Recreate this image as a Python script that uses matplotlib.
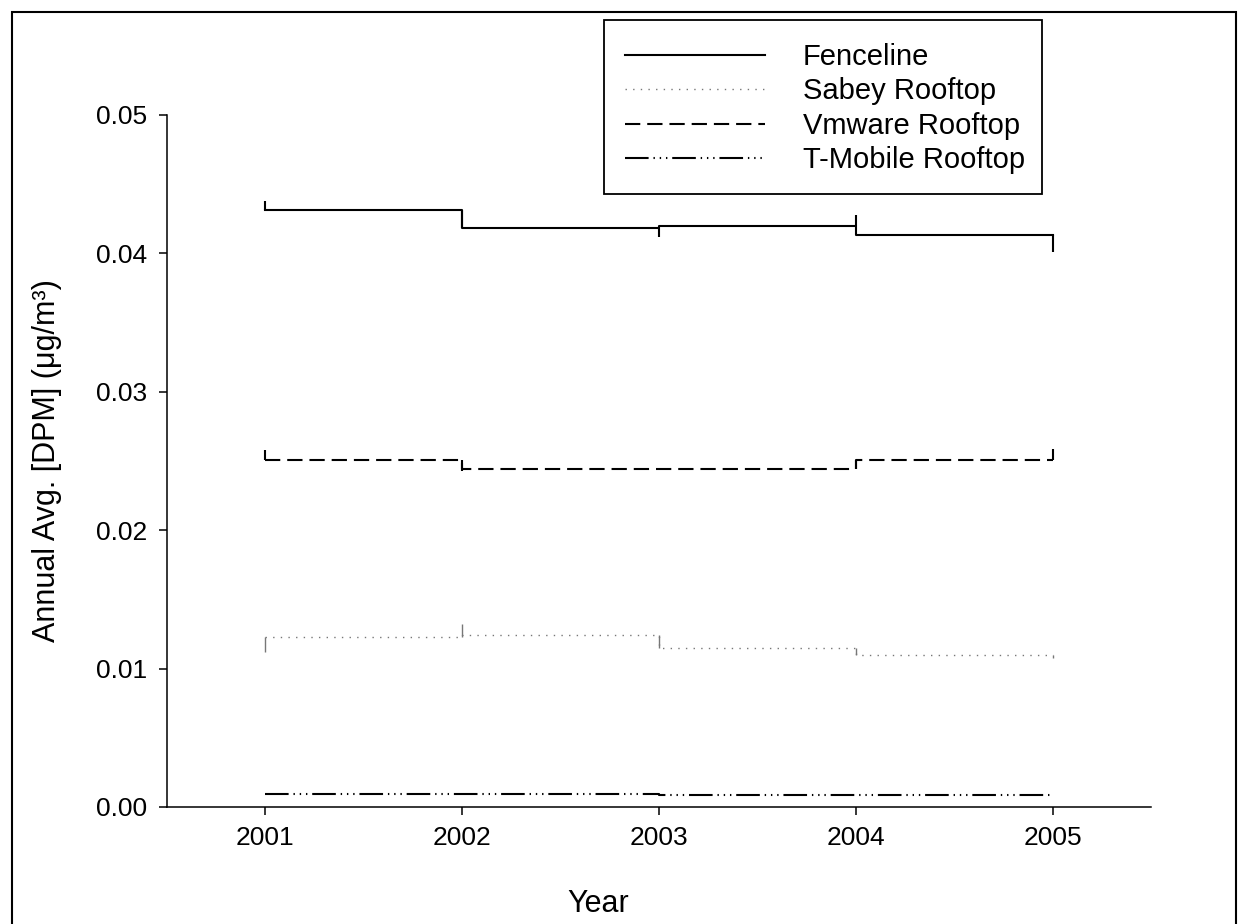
import matplotlib
matplotlib.use("Agg")
import matplotlib.pyplot as plt
from matplotlib.patches import Rectangle

plt.rcParams['font.family'] = ['Liberation Sans', 'DejaVu Sans']
plt.rcParams['lines.scale_dashes'] = False

# ---- data ----
years = [2001, 2002, 2003, 2004, 2005]
series_names = ["Fenceline", "Sabey Rooftop", "Vmware Rooftop", "T-Mobile Rooftop"]

# level held from each year to the next (step values)
fenceline_vals = [0.0431, 0.0418, 0.0420, 0.0413]
sabey_vals = [0.0123, 0.0124, 0.0115, 0.0110]
vmware_vals = [0.0251, 0.0244, 0.0244, 0.0251]
tmobile_vals = [0.00092, 0.00093, 0.00087, 0.00090]

# end of the short vertical spike drawn at each year
fenceline_spike = [0.0438, 0.0418, 0.0412, 0.0428, 0.0401]
sabey_spike = [0.0112, 0.0132, 0.0115, 0.0110, 0.0108]
vmware_spike = [0.0258, 0.0243, 0.0244, 0.0251, 0.0259]
tmobile_spike = [0.00092, 0.00093, 0.00087, 0.00090, 0.00090]

y_ticks = [0.00, 0.01, 0.02, 0.03, 0.04, 0.05]
x_ticks = years

styles = [
    dict(color='black', lw=1.5, linestyle='-'),
    dict(color='#777777', lw=1.0, dashes=(1.0, 4.5)),
    dict(color='black', lw=1.5, dashes=(11, 5)),
    dict(color='black', lw=1.5, dashes=(17, 3.5, 1, 3.5, 1, 3.5, 1, 3.5)),
]

fig = plt.figure(figsize=(12.48, 9.24), dpi=100)
ax = fig.add_axes([167 / 1248, 1 - 807 / 924, (1151 - 167) / 1248, (807 - 115) / 924])

all_vals = [fenceline_vals, sabey_vals, vmware_vals, tmobile_vals]
all_spikes = [fenceline_spike, sabey_spike, vmware_spike, tmobile_spike]
handles = []
for name, vals, spk, st in zip(series_names, all_vals, all_spikes, styles):
    ys = list(vals) + [vals[-1]]
    h, = ax.step(years, ys, where='post', label=name, **st)
    handles.append(h)
    base = [vals[0]] + list(vals)
    ax.vlines(years, base, spk, colors=st['color'], linewidth=st['lw'])

ax.set_xlim(2000.5, 2005.5)
ax.set_ylim(0, 0.05)
ax.set_xticks(x_ticks)
ax.set_xticklabels([str(y) for y in x_ticks])
ax.set_yticks(y_ticks)
ax.set_yticklabels(["%.2f" % v for v in y_ticks])
for s in ['top', 'right']:
    ax.spines[s].set_visible(False)
for s in ['left', 'bottom']:
    ax.spines[s].set_linewidth(1.1)
ax.tick_params(axis='both', direction='out', length=6, width=1.1, labelsize=19, pad=8)

ax.set_xlabel("Year", fontsize=22)
ax.xaxis.set_label_coords((598 - 167) / 984, -(889 - 807) / 692)
ax.set_ylabel("Annual Avg. [DPM] (μg/m³)", fontsize=22)
ax.yaxis.set_label_coords(-(167 - 62) / 984, 0.5)

# legend box
fig.patches.append(Rectangle((604 / 1248, 1 - 194 / 924), (1042 - 604) / 1248, (194 - 20) / 924,
                             transform=fig.transFigure, fill=False, edgecolor='black', linewidth=1.3))
fig.legend(handles=handles, labels=series_names, loc='upper left',
           bbox_to_anchor=(625 / 1248, 1 - 43 / 924), frameon=False, fontsize=21,
           handlelength=4.8, handletextpad=1.3, labelspacing=0.22, borderpad=0, borderaxespad=0)

# outer frame
fig.patches.append(Rectangle((12 / 1248, -0.05), (1236 - 12) / 1248, 1.05 - 12 / 924,
                             transform=fig.transFigure, fill=False, edgecolor='black', linewidth=1.5))

fig.savefig("out.png", dpi=100)
